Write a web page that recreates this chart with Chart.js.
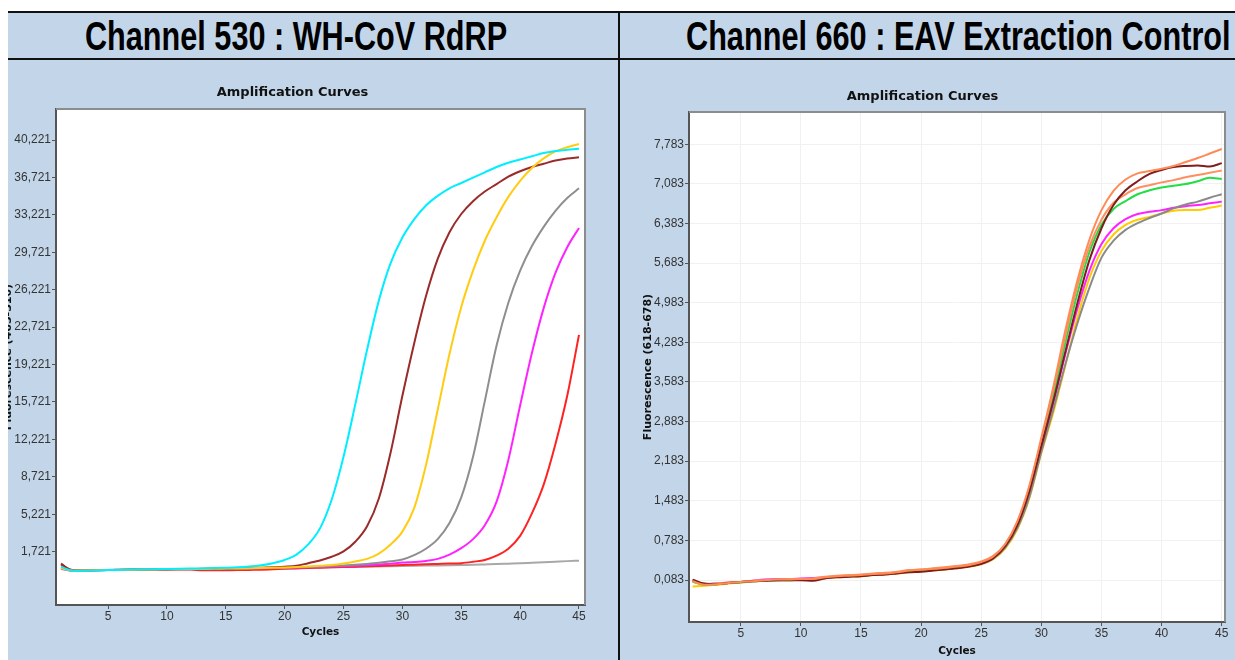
<!DOCTYPE html>
<html>
<head>
<meta charset="utf-8">
<script src="https://cdn.jsdelivr.net/npm/chart.js@4.4.1/dist/chart.umd.min.js"></script>
<style>
  html, body { margin: 0; padding: 0; background: #fff; }
  body { width: 1235px; height: 660px; position: relative; overflow: hidden; }
  .band { position: absolute; left: 8px; top: 11px; width: 1227px; height: 45px; background: #c3d6e9; border-top: 2px solid #111; border-bottom: 2px solid #111; }
  .panel { position: absolute; top: 60px; height: 600px; background: #c3d6e9; }
  .divider { position: absolute; left: 618px; top: 11px; width: 2px; height: 649px; background: #111; z-index: 3; }
  .strip { position: absolute; left: 0; top: 0; width: 8px; height: 660px; background: #fff; z-index: 3; }
  .head { position: absolute; top: 16px; line-height: 40px; font-size: 40px; font-weight: bold; color: #000; white-space: nowrap;
          font-family: "Liberation Sans Narrow", "Liberation Sans", Arial, sans-serif; transform-origin: 0 0; display: inline-block; z-index: 2; }
  .box { position: absolute; top: 60px; height: 600px; }
</style>
</head>
<body>
<div class="band"></div>
<div class="panel" style="left:8px;width:610px"></div>
<div class="panel" style="left:620px;width:615px"></div>
<span class="head" id="head1" style="left:85px">Channel 530 : WH-CoV RdRP</span>
<span class="head" id="head2" style="left:686px">Channel 660 : EAV Extraction Control</span>
<div class="box" style="left:0;width:618px"><canvas id="chart530"></canvas></div>
<div class="box" style="left:620px;width:615px"><canvas id="chart660"></canvas></div>
<div class="divider"></div>
<div class="strip"></div>
<script>
// cycles 1..45
const cycles = [1,2,3,4,5,6,7,8,9,10,11,12,13,14,15,16,17,18,19,20,21,22,23,24,25,26,27,28,29,30,31,32,33,34,35,36,37,38,39,40,41,42,43,44,45];
const xTicks = [5,10,15,20,25,30,35,40,45];

// Channel 530 ticks
const ticks530 = [1721,5221,8721,12221,15721,19221,22721,26221,29721,33221,36721,40221];
const labels530 = ['1,721','5,221','8,721','12,221','15,721','19,221','22,721','26,221','29,721','33,221','36,721','40,221'];

// Channel 530 curves
const cyan530 = [300,-50,-50,-30,0,20,50,60,80,100,120,140,160,190,220,260,330,450,650,950,1450,2400,3900,6600,10600,15500,20600,25200,28700,31100,32800,34100,35000,35700,36200,36700,37200,37700,38100,38400,38700,39000,39200,39300,39400];
const brown530 = [600,-30,-30,0,10,30,50,60,70,90,100,110,120,130,150,170,200,230,270,320,400,650,900,1250,1750,2650,4100,6700,11000,16300,21200,25600,29100,31600,33300,34500,35400,36100,36800,37300,37700,38000,38300,38500,38600];
const gold530 = [200,-60,-40,-20,0,20,40,50,60,80,90,100,110,120,140,160,180,200,220,250,290,340,400,480,620,800,1050,1550,2400,3600,5800,9800,15000,20200,24600,28000,30800,33000,34900,36400,37600,38500,39150,39550,39850];
const gray530 = [250,-40,-30,-10,10,30,60,70,70,80,90,100,110,120,130,150,160,180,200,230,260,290,330,380,430,500,580,680,820,1000,1400,2000,2900,4400,6800,10600,15800,21000,25000,28000,30300,32100,33600,34800,35700];
const magenta530 = [150,-50,-40,-20,0,20,40,50,60,70,80,90,100,110,120,130,150,170,190,210,240,270,300,330,370,410,460,520,600,700,760,860,1050,1450,2050,2900,4200,6400,10300,15400,20300,24500,27800,30200,32000];
const red530 = [500,0,-20,-10,0,10,20,30,30,40,50,60,-20,-20,-10,0,20,40,80,120,160,200,230,260,290,320,350,390,430,470,510,550,580,610,650,780,950,1350,2000,3200,5300,8000,11800,16300,22000];
const flat530 = [100,-50,-40,-20,0,20,40,60,70,80,90,100,110,120,130,140,150,160,170,180,200,220,240,260,280,300,320,340,360,380,400,420,440,460,480,500,530,560,600,640,690,740,790,840,880];

// Channel 660 ticks
const ticks660 = [0.083,0.783,1.483,2.183,2.883,3.583,4.283,4.983,5.683,6.383,7.083,7.783];
const labels660 = ['0,083','0,783','1,483','2,183','2,883','3,583','4,283','4,983','5,683','6,383','7,083','7,783'];

// Channel 660 curves
const orangeA660 = [0.06,0.00,0.01,0.03,0.05,0.06,0.08,0.09,0.09,0.10,0.10,0.13,0.15,0.16,0.17,0.19,0.20,0.22,0.25,0.27,0.28,0.30,0.32,0.35,0.40,0.50,0.72,1.12,1.75,2.60,3.50,4.50,5.38,6.10,6.62,6.96,7.16,7.27,7.31,7.35,7.40,7.47,7.54,7.62,7.70];
const maroon660 = [0.09,0.02,0.01,0.03,0.05,0.06,0.07,0.08,0.08,0.08,0.07,0.11,0.13,0.14,0.15,0.17,0.18,0.20,0.22,0.23,0.25,0.27,0.29,0.32,0.37,0.47,0.68,1.05,1.65,2.45,3.25,4.12,4.98,5.74,6.30,6.71,6.97,7.13,7.26,7.33,7.38,7.40,7.41,7.39,7.45];
const orangeB660 = [0.07,0.01,0.02,0.04,0.05,0.07,0.08,0.09,0.10,0.10,0.11,0.14,0.16,0.17,0.18,0.20,0.21,0.23,0.26,0.27,0.29,0.31,0.33,0.36,0.41,0.51,0.72,1.10,1.72,2.55,3.45,4.40,5.28,5.98,6.45,6.75,6.90,7.01,7.06,7.11,7.15,7.20,7.24,7.28,7.32];
const green660 = [0.05,0.00,0.01,0.03,0.04,0.06,0.07,0.08,0.08,0.09,0.09,0.12,0.14,0.15,0.16,0.18,0.19,0.21,0.24,0.25,0.27,0.29,0.31,0.34,0.38,0.48,0.69,1.07,1.68,2.52,3.35,4.28,5.15,5.88,6.36,6.64,6.78,6.90,6.97,7.02,7.05,7.08,7.13,7.19,7.17];
const gray660 = [0.07,0.01,0.02,0.03,0.05,0.06,0.07,0.08,0.09,0.09,0.09,0.12,0.14,0.15,0.16,0.18,0.19,0.21,0.23,0.25,0.26,0.28,0.30,0.33,0.37,0.46,0.66,1.00,1.55,2.35,3.10,3.90,4.62,5.25,5.78,6.08,6.27,6.39,6.48,6.56,6.65,6.72,6.77,6.84,6.90];
const magenta660 = [0.06,0.01,0.02,0.04,0.05,0.07,0.09,0.10,0.10,0.11,0.12,0.13,0.14,0.15,0.16,0.18,0.19,0.22,0.24,0.25,0.26,0.28,0.30,0.33,0.37,0.47,0.67,1.03,1.60,2.42,3.22,4.08,4.88,5.55,6.02,6.30,6.46,6.55,6.59,6.62,6.66,6.69,6.71,6.74,6.77];
const yellow660 = [-0.03,-0.02,0.00,0.02,0.04,0.06,0.07,0.08,0.08,0.09,0.09,0.12,0.13,0.14,0.15,0.17,0.18,0.20,0.22,0.24,0.25,0.27,0.29,0.32,0.36,0.45,0.64,0.98,1.53,2.33,3.05,3.88,4.72,5.42,5.90,6.19,6.36,6.45,6.50,6.56,6.61,6.62,6.62,6.66,6.70];

const narrow = "'Liberation Sans Narrow', 'Liberation Sans', Arial, sans-serif";
const heavy = "'DejaVu Sans', sans-serif";

// stretch the big headings to the width they have in the picture
function fitHead(id, w) {
    const el = document.getElementById(id);
    el.style.transform = 'scaleX(' + (w / el.offsetWidth) + ')';
}
fitHead('head1', 422);
fitHead('head2', 545);

// white plot area plus grey top/right frame
const plotFrame = {
    id: 'plotFrame',
    beforeDraw(chart) {
        const { ctx, chartArea: a } = chart;
        ctx.save();
        ctx.fillStyle = '#fff';
        ctx.fillRect(a.left, a.top, a.right - a.left, a.bottom - a.top);
        ctx.restore();
    },
    afterDraw(chart) {
        const { ctx, chartArea: a } = chart;
        ctx.save();
        ctx.strokeStyle = '#8c8c8c';
        ctx.lineWidth = 2;
        ctx.beginPath();
        ctx.moveTo(a.left, a.top);
        ctx.lineTo(a.right, a.top);
        ctx.lineTo(a.right, a.bottom);
        ctx.stroke();
        ctx.restore();
    }
};

function curve(values, color) {
    return {
        data: values.map((v, i) => ({ x: cycles[i], y: v })),
        borderColor: color,
        borderWidth: 2,
        pointRadius: 0,
        cubicInterpolationMode: 'monotone',
        fill: false
    };
}

function makeChart(el, cfg) {
    return new Chart(el, {
        type: 'line',
        data: { datasets: cfg.datasets },
        options: {
            responsive: true,
            maintainAspectRatio: false,
            animation: false,
            layout: { padding: cfg.padding },
            plugins: {
                legend: { display: false },
                tooltip: { enabled: false },
                title: {
                    display: true,
                    text: 'Amplification Curves',
                    color: '#111',
                    font: { family: heavy, size: 13, weight: 'bold' },
                    padding: { top: 0, bottom: cfg.titleGap }
                }
            },
            scales: {
                x: {
                    type: 'linear',
                    min: cfg.xMin,
                    max: cfg.xMax,
                    afterBuildTicks: s => { s.ticks = xTicks.map(v => ({ value: v })); },
                    afterFit: s => { s.height = cfg.xHeight; },
                    ticks: { color: '#333', font: { family: narrow, size: 12 }, padding: 0, maxRotation: 0, autoSkip: false },
                    grid: { color: cfg.gridColor, drawOnChartArea: cfg.grid, tickLength: 4, tickColor: '#555' },
                    border: { color: '#555', width: 2 },
                    title: { display: true, text: 'Cycles', color: '#111', font: { family: heavy, size: 10.5, weight: 'bold' }, padding: { top: 0, bottom: cfg.cyclesGap } }
                },
                y: {
                    min: cfg.yMin,
                    max: cfg.yMax,
                    afterBuildTicks: s => { s.ticks = cfg.ticks.map(v => ({ value: v })); },
                    afterFit: s => { s.width = cfg.yWidth; },
                    ticks: { color: '#333', font: { family: narrow, size: 12 }, padding: 1, autoSkip: false, callback: (v, i) => cfg.labels[i] },
                    grid: { color: cfg.gridColor, drawOnChartArea: cfg.grid, tickLength: 4, tickColor: '#555' },
                    border: { color: '#555', width: 2 },
                    title: { display: true, text: cfg.yTitle, color: '#111', font: { family: heavy, size: 11, weight: 'bold' }, padding: { top: cfg.yTitleGap, bottom: 0 } }
                }
            }
        },
        plugins: [plotFrame]
    });
}

makeChart(document.getElementById('chart530'), {
    datasets: [
        curve(cyan530, '#00eeff'),
        curve(gold530, '#ffcc11'),
        curve(brown530, '#9b2a2a'),
        curve(gray530, '#8e8e8e'),
        curve(magenta530, '#ff22ff'),
        curve(red530, '#ff2222'),
        curve(flat530, '#a8a8a8')
    ],
    padding: { top: 24.6, right: 33, bottom: 0, left: 0 },
    titleGap: 8.8,
    xMin: 0.58, xMax: 45.51, xHeight: 55, cyclesGap: 21.7,
    yMin: -3263, yMax: 43120, yWidth: 56, yTitleGap: 1.4,
    ticks: ticks530, labels: labels530,
    yTitle: 'Fluorescence (465-510)',
    grid: false, gridColor: '#f3f3f3'
});

makeChart(document.getElementById('chart660'), {
    datasets: [
        curve(orangeA660, '#ff8a55'),
        curve(maroon660, '#7f1d1d'),
        curve(orangeB660, '#ff8f5e'),
        curve(green660, '#22dd44'),
        curve(gray660, '#8a8a8a'),
        curve(magenta660, '#ff22ff'),
        curve(yellow660, '#ffcc00')
    ],
    padding: { top: 28.4, right: 10, bottom: 0, left: 0 },
    titleGap: 8,
    xMin: 0.70, xMax: 45.27, xHeight: 38, cyclesGap: 2.7,
    yMin: -0.659, yMax: 8.354, yWidth: 69, yTitleGap: 21.4,
    ticks: ticks660, labels: labels660,
    yTitle: 'Fluorescence (618-678)',
    grid: true, gridColor: '#f1f1f1'
});
</script>
</body>
</html>
